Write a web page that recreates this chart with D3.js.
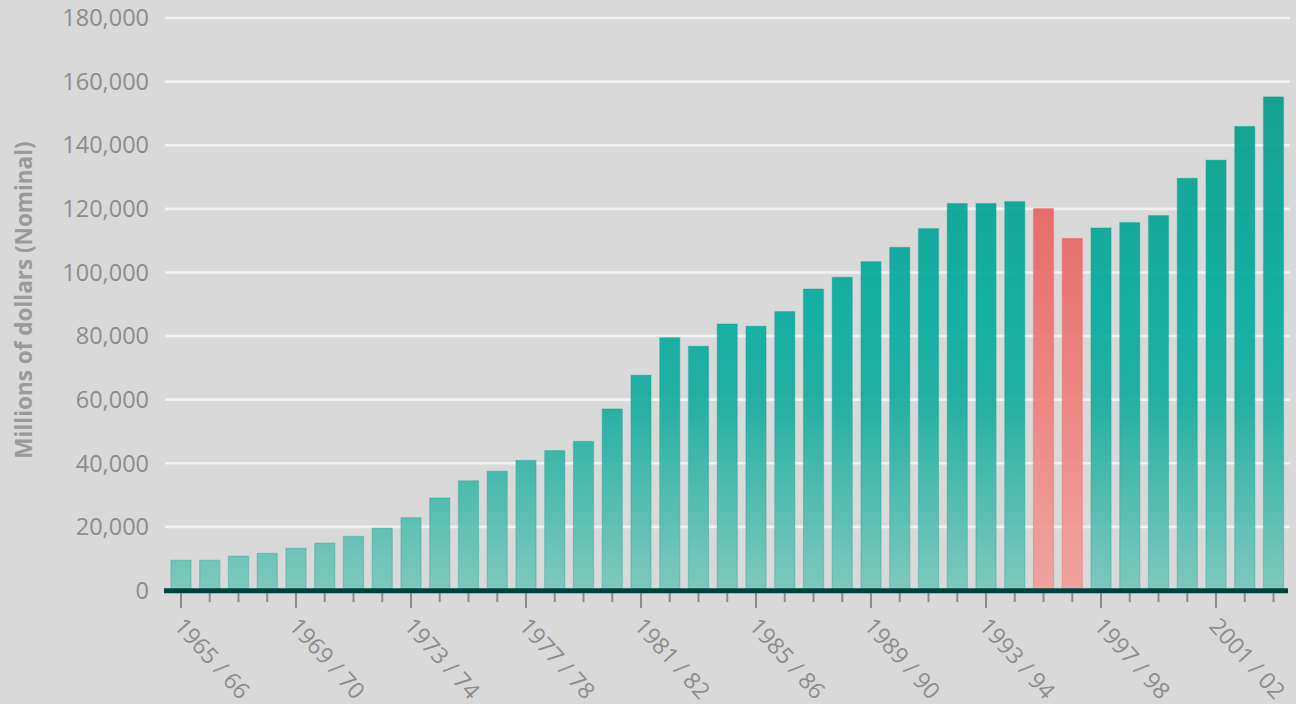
<!DOCTYPE html>
<html><head><meta charset="utf-8">
<script src="https://cdn.jsdelivr.net/npm/d3@7"></script>
<style>
html,body{margin:0;padding:0;background:#d9d9d9;}
svg{display:block;}
</style></head>
<body>
<svg id="chart" width="1296" height="704"></svg>
<script>
const categories = ["1965 / 66","1966 / 67","1967 / 68","1968 / 69","1969 / 70","1970 / 71","1971 / 72","1972 / 73","1973 / 74","1974 / 75","1975 / 76","1976 / 77","1977 / 78","1978 / 79","1979 / 80","1980 / 81","1981 / 82","1982 / 83","1983 / 84","1984 / 85","1985 / 86","1986 / 87","1987 / 88","1988 / 89","1989 / 90","1990 / 91","1991 / 92","1992 / 93","1993 / 94","1994 / 95","1995 / 96","1996 / 97","1997 / 98","1998 / 99","1999 / 00","2000 / 01","2001 / 02","2002 / 03","2003 / 04"];
const values = [9500,9500,10800,11700,13300,14900,17000,19600,22900,29100,34500,37500,40900,44000,46900,57100,67700,79500,76800,83800,83100,87700,94800,98500,103400,107900,113800,121700,121700,122300,120100,110700,114000,115700,117900,129600,135300,145900,155200];
const highlighted = ["1995 / 96","1996 / 97"];
const yTicks = [0,20000,40000,60000,80000,100000,120000,140000,160000,180000];
const labelEvery = 4;
const yTitle = "Millions of dollars (Nominal)";

const svg = d3.select("#chart");
const left = 166.6, right = 1287.9, y0 = 590.5, yTop = 18;

const x = d3.scaleBand().domain(categories).range([left, right]).paddingInner(0.3).paddingOuter(0.15);
const y = d3.scaleLinear().domain([0, 180000]).range([y0, yTop]);

const defs = svg.append("defs");
const gT = defs.append("linearGradient").attr("id","gTeal").attr("gradientUnits","userSpaceOnUse")
  .attr("x1",0).attr("x2",0).attr("y1",y(0)).attr("y2",y(160000));
[[0,"#76c7ba"],[0.375,"#0fab9c"],[0.55,"#00ab9f"],[1,"#009a86"]].forEach(s=>gT.append("stop").attr("offset",s[0]).attr("stop-color",s[1]));
const gR = defs.append("linearGradient").attr("id","gRed").attr("gradientUnits","userSpaceOnUse")
  .attr("x1",0).attr("x2",0).attr("y1",y(0)).attr("y2",y(120000));
[[0,"#f39e99"],[0.5,"#ee7e7a"],[1,"#e8615e"]].forEach(s=>gR.append("stop").attr("offset",s[0]).attr("stop-color",s[1]));

// gridlines
svg.append("g").selectAll("line").data(yTicks.filter(d=>d>0)).join("line")
  .attr("x1",165).attr("x2",1290).attr("y1",d=>y(d)).attr("y2",d=>y(d))
  .attr("stroke","#f2f2f2").attr("stroke-width",2.6);

// y tick labels
svg.append("g").selectAll("text").data(yTicks).join("text")
  .attr("x",149).attr("y",d=>y(d)).attr("dy","0.35em")
  .attr("text-anchor","end")
  .attr("font-family","'Open Sans', sans-serif").attr("font-size",23.5)
  .attr("fill","#8c8c8c")
  .text(d=>d3.format(",")(d));

// bars
svg.append("g").selectAll("rect").data(categories).join("rect")
  .attr("x",d=>x(d)).attr("width",x.bandwidth())
  .attr("y",(d,i)=>y(values[i])).attr("height",(d,i)=>y(0)-y(values[i]))
  .attr("fill",d=>highlighted.includes(d)?"url(#gRed)":"url(#gTeal)")
  .attr("fill-opacity",0.9)
  .attr("stroke",d=>highlighted.includes(d)?"rgba(232,97,94,0.35)":"rgba(0,160,140,0.3)").attr("stroke-width",1.2);

// ticks
svg.append("g").selectAll("line").data(categories).join("line")
  .attr("x1",d=>x(d)+x.bandwidth()/2).attr("x2",d=>x(d)+x.bandwidth()/2)
  .attr("y1",592).attr("y2",(d,i)=>i%labelEvery===0?608:602)
  .attr("stroke","#8c8c8c").attr("stroke-width",2);

// axis line
svg.append("line").attr("x1",164).attr("x2",1288).attr("y1",590.8).attr("y2",590.8)
  .attr("stroke","#00433c").attr("stroke-width",5);

// x labels
svg.append("g").selectAll("text").data(categories.filter((d,i)=>i%labelEvery===0)).join("text")
  .attr("transform",d=>`translate(${x(d)+x.bandwidth()/2-8},${627}) rotate(48)`)
  .attr("font-family","'Open Sans', sans-serif").attr("font-size",23)
  .attr("fill","#8c8c8c")
  .text(d=>d);

// y title
svg.append("text").attr("transform",`translate(32,${300}) rotate(-90)`)
  .attr("text-anchor","middle")
  .attr("font-family","'Open Sans', sans-serif").attr("font-weight","bold").attr("font-size",22.5)
  .attr("fill","#9a9a9a")
  .text(yTitle);
</script>
</body></html>
